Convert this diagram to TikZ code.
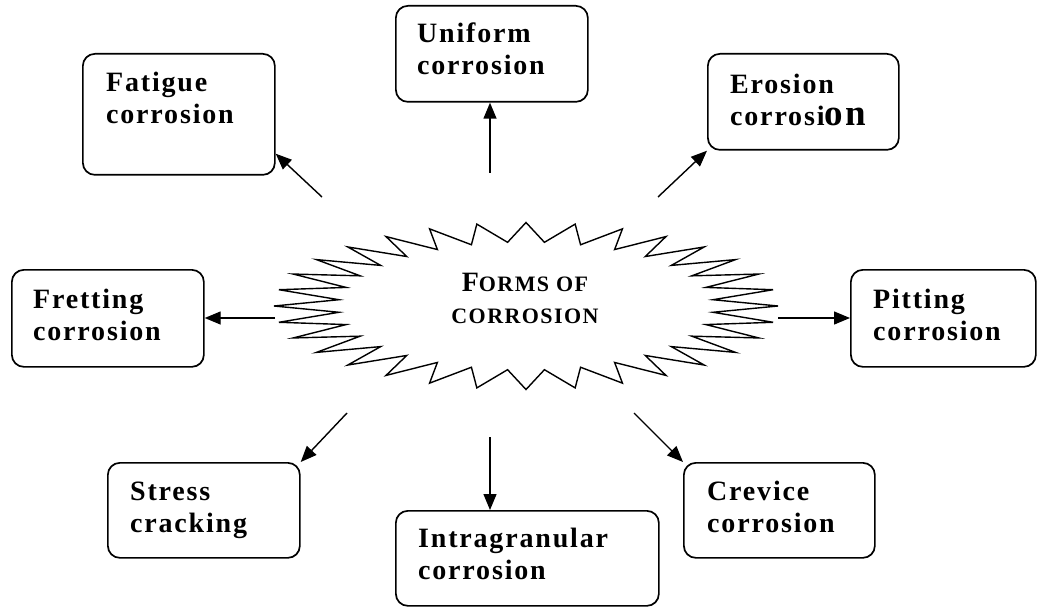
\documentclass[tikz,border=0pt]{standalone}
\usepackage{fontspec}
\setmainfont{Liberation Serif}
\newfontfamily\boxfont{Liberation Serif}[LetterSpace=6.5]
\usetikzlibrary{arrows.meta,calc}
\newcommand\smc[1]{{\fontsize{22}{32}\selectfont #1}}
\tikzset{
  box/.style={draw, line width=1.7pt, rounded corners=12pt, anchor=north west, inner sep=0pt},
  lbl/.style={inner sep=0pt, anchor=base west, align=left, font=\boxfont\bfseries\fontsize{28}{32}\selectfont},
  arr/.style={line width=1.4pt, -{Triangle[length=16pt,width=13pt]}},
  burst/.style={line width=1.4pt, line join=miter}
}
\begin{document}
\begin{tikzpicture}[x=1pt,y=-1pt]
\useasboundingbox (0,0) rectangle (1037,607);
% starburst
\draw[burst] (778,306)
  \foreach \k in {0,...,31} {
    -- ({526+188*cos(\k*11.25+5.625)},{306+64*sin(\k*11.25+5.625)})
    -- ({526+252*cos((\k+1)*11.25)},{306+83.5*sin((\k+1)*11.25)})
  } -- cycle;
\node[inner sep=0pt, anchor=base, align=center, font=\boxfont\bfseries\fontsize{28}{32}\selectfont] (center) at (525,323)
  {F\smc{ORMS OF}\\\smc{CORROSION}};
% boxes
\node[box, minimum width=192pt, minimum height=121pt] (fatigue) at (82,53) {};
\node[lbl] (fatigueT) at (106,124) {Fatigue\\corrosion};
\node[box, minimum width=192pt, minimum height=96pt] (uniform) at (395,5) {};
\node[lbl] (uniformT) at (417,75) {Uniform\\corrosion};
\node[box, minimum width=191pt, minimum height=96pt] (erosion) at (707,53) {};
\node[lbl] (erosionT) at (730,126) {Erosion\\corrosi{\fontsize{37}{32}\selectfont on}};
\node[box, minimum width=192pt, minimum height=97pt] (fretting) at (11,269) {};
\node[lbl] (frettingT) at (33,340) {Fretting\\corrosion};
\node[box, minimum width=185pt, minimum height=97pt] (pitting) at (850,269) {};
\node[lbl] (pittingT) at (873,340) {Pitting\\corrosion};
\node[box, minimum width=192pt, minimum height=95pt] (stress) at (107,462) {};
\node[lbl] (stressT) at (130,532) {Stress\\cracking};
\node[box, minimum width=263pt, minimum height=95pt] (intra) at (395,510) {};
\node[lbl] (intraT) at (418,579) {Intragranular\\corrosion};
\node[box, minimum width=191pt, minimum height=95pt] (crevice) at (683,462) {};
\node[lbl] (creviceT) at (707,532) {Crevice\\corrosion};
% arrow start points
\coordinate (sFat) at (322,197);
\coordinate (sUni) at (490,173);
\coordinate (sEro) at (658,197);
\coordinate (sFre) at (275,318);
\coordinate (sPit) at (778,318);
\coordinate (sStr) at (347,413);
\coordinate (sInt) at (490,437);
\coordinate (sCre) at (634,413);
% arrows
\draw[arr] (sFat) -- ([yshift=22pt]fatigue.south east);
\draw[arr] (sUni) -- (sUni |- uniform.south);
\draw[arr] (sEro) -- (erosion.south west);
\draw[arr] (sFre) -- (sFre -| fretting.east);
\draw[arr] (sPit) -- (sPit -| pitting.west);
\draw[arr] (sStr) -- (stress.north east);
\draw[arr] (sInt) -- (sInt |- intra.north);
\draw[arr] (sCre) -- (crevice.north west);
\end{tikzpicture}
\end{document}
